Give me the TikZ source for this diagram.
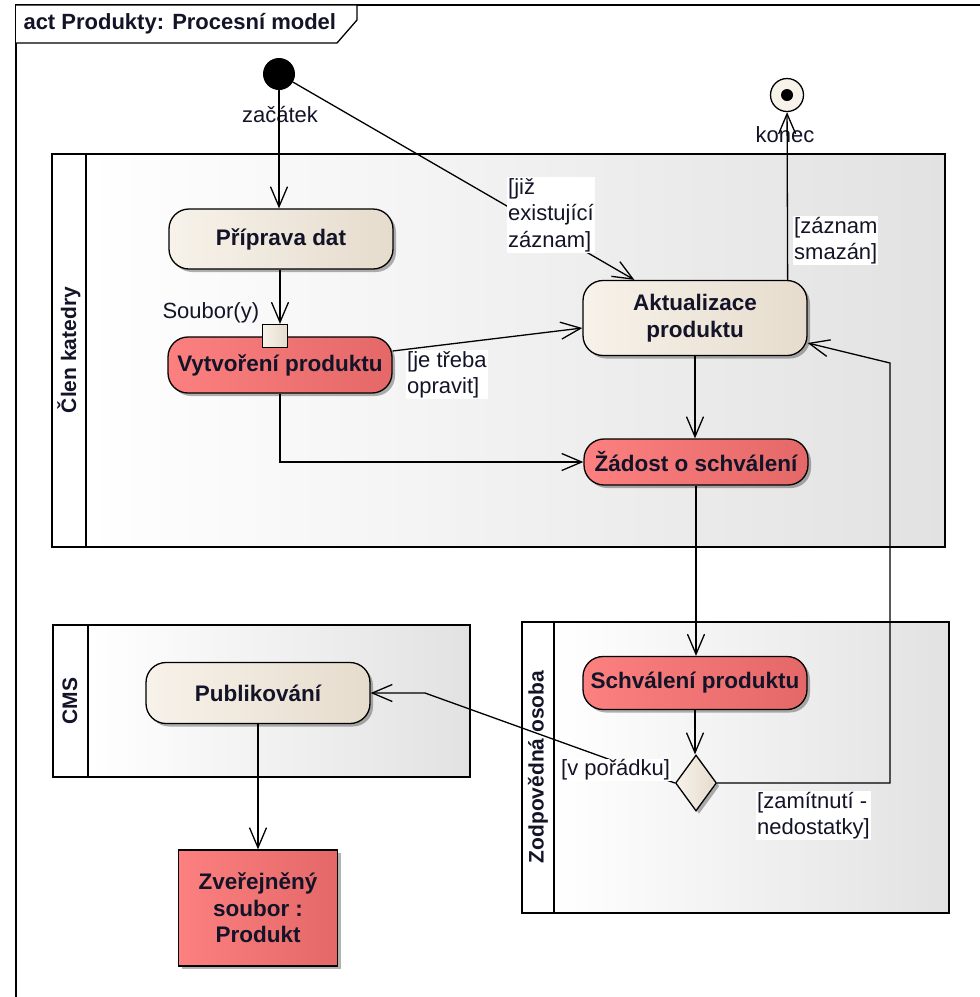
\documentclass[tikz,border=0pt]{standalone}
\usepackage{fontspec}
\setmainfont{Liberation Sans}
\usetikzlibrary{arrows.meta,shapes.geometric,shadows}

\definecolor{beigeL}{RGB}{247,242,234}
\definecolor{beigeR}{RGB}{230,220,205}
\definecolor{redL}{RGB}{252,128,128}
\definecolor{redR}{RGB}{228,104,104}
\definecolor{laneR}{RGB}{226,226,226}
\definecolor{txt}{RGB}{20,20,40}

\begin{document}
\begin{tikzpicture}[x=1pt,y=-1pt,
  every node/.style={font=\fontsize{22}{26.5}\selectfont, text=txt},
  lw/.style={line width=1.3pt},
  arr/.style={lw, -{Straight Barb[length=20pt,width=17pt,line width=1.3pt]}},
  shd/.style={drop shadow={shadow xshift=3pt,shadow yshift=-3pt,opacity=0.3,fill=black}},
  boldf/.style={font=\fontsize{22.5}{26.5}\selectfont\bfseries},
  lanef/.style={font=\fontsize{21}{26}\selectfont\bfseries},
  act/.style={draw, lw, rectangle, rounded corners=20pt, minimum width=224pt, boldf, shd, align=center, inner sep=2pt},
  beige/.style={left color=beigeL, right color=beigeR},
  redf/.style={left color=redL, right color=redR},
  lbl/.style={fill=white, align=left, inner sep=1pt, anchor=north west},
  lanebody/.style={left color=white, middle color=white, right color=laneR},
]
\useasboundingbox (0,0) rectangle (980,997);

% frame
\draw[lw] (16,997) -- (16,5) -- (980,5);
\draw[lw, fill=white] (16,5) -- (357,5) -- (357,20) -- (337,43) -- (16,43);
\node[font=\fontsize{22}{26}\selectfont\bfseries, anchor=west] (title) at (20,24) {act Produkty: Procesní model};

% lane 1
\shade[lanebody] (86,154) rectangle (945,547);
\draw[lw] (52,154) rectangle (945,547);
\draw[lw] (86,154) -- (86,547);
\node[lanef, rotate=90] (lane1) at (69,350) {Člen katedry};

% lane 2
\shade[lanebody] (88,625) rectangle (470,777);
\draw[lw] (53,625) rectangle (470,777);
\draw[lw] (88,625) -- (88,777);
\node[lanef, rotate=90] (lane2) at (70,701) {CMS};

% lane 3
\shade[lanebody] (554,622) rectangle (949,913);
\draw[lw] (522,622) rectangle (949,913);
\draw[lw] (554,622) -- (554,913);
\node[lanef, rotate=90] (lane3) at (538,767) {Zodpovědná osoba};

% nodes
\node[circle, fill=black, minimum size=32pt, inner sep=0] (start) at (279,74) {};
\node (lzac) at (280,115) {začátek};
\node[circle, draw, lw, fill=beigeL, minimum size=33pt, inner sep=0] (konec) at (787,95) {};
\node[circle, fill=black, minimum size=12pt, inner sep=0] (konecdot) at (787,95) {};
\node (lkon) at (785,135) {konec};

\node[act, beige, minimum height=60pt] (prip) at (281,239) {Příprava dat};
\node[act, redf, minimum height=56pt] (vyt) at (280,365) {Vytvoření produktu};
\node[draw, lw, beige, minimum width=25pt, minimum height=23pt, inner sep=0] (pin) at (275,336) {};
\node[anchor=west] (lsoub) at (159,313) {Soubor(y)};

\node[act, beige, minimum height=75pt] (akt) at (695,318) {Aktualizace\\produktu};
\node[act, redf, minimum height=46pt] (zad) at (696,462) {Žádost o schválení};
\node[act, redf, minimum height=53pt] (sch) at (695,683) {Schválení produktu};
\node[diamond, draw, lw, beige, minimum width=41pt, minimum height=56pt, inner sep=0, shd] (dec) at (696,783) {};

\node[act, beige, minimum height=61pt] (pub) at (258,693) {Publikování};
\node[draw, lw, redf, minimum width=159pt, minimum height=116pt, align=center, boldf, shd] (zve) at (258,908) {Zveřejněný\\soubor :\\Produkt};

% connectors
\draw[arr] (start) -- (start |- prip.north);
\draw[arr] (start) -- ([xshift=52pt]akt.north west);
\node[lbl] (ljiz) at (507,177) {[již\\existující\\záznam]};

\draw[arr] ([xshift=-20pt]akt.north east) -- (konec);
\node[lbl] (lsmaz) at (793,216) {[záznam\\smazán]};

\draw[arr] ([xshift=5pt]pin.north |- prip.south) -- ([xshift=5pt]pin.north);

\draw[arr] ([yshift=14pt]vyt.east) -- ([yshift=-10pt]akt.west);
\node[lbl] (lopr) at (406,350) {[je třeba\\opravit]};

\draw[arr] (vyt.south) |- (zad.west);
\draw[arr] (akt.south) -- (akt.south |- zad.north);
\draw[arr] (zad.south) -- (zad.south |- sch.north);
\draw[arr] (sch.south) -- (sch.south |- dec.north);

\coordinate (c1) at (890,363);
\draw[arr] (dec.east) -| (c1) -- ([yshift=-25pt]akt.east);
\node[lbl] (lzam) at (756,791) {[zamítnutí -\\nedostatky]};

\coordinate (c2) at (425,693);
\draw[arr] (dec.west) -- (c2) -- (pub.east);
\node[lbl, anchor=west] (lpor) at (560,770) {[v pořádku]};

\draw[arr] (pub.south) -- (zve.north);
\end{tikzpicture}
\end{document}
